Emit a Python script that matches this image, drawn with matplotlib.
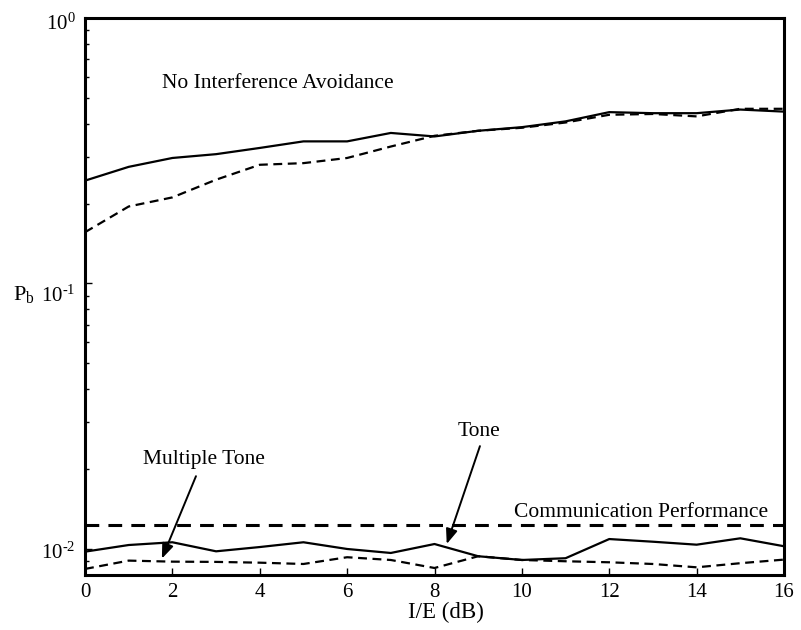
import matplotlib
matplotlib.use("Agg")
import matplotlib.pyplot as plt
import matplotlib.transforms as mtransforms
from matplotlib.ticker import FixedLocator, LogLocator, NullFormatter

plt.rcParams['font.family'] = ['Liberation Serif', 'DejaVu Serif']
plt.rcParams['mathtext.fontset'] = 'custom'
plt.rcParams['mathtext.rm'] = 'Liberation Serif'
plt.rcParams['mathtext.it'] = 'Liberation Serif:italic'

ie_db = list(range(17))
no_avoid_solid = [0.244, 0.275, 0.297, 0.307, 0.324, 0.343, 0.343, 0.369, 0.358, 0.376,
                  0.388, 0.408, 0.442, 0.438, 0.438, 0.452, 0.444]
no_avoid_dashed = [0.156, 0.195, 0.211, 0.246, 0.280, 0.284, 0.297, 0.328, 0.360, 0.376,
                   0.386, 0.404, 0.432, 0.435, 0.426, 0.455, 0.455]
tone = [0.00977, 0.01035, 0.0106, 0.0098, 0.01017, 0.0106, 0.0100, 0.00966, 0.01044, 0.00939,
        0.00909, 0.00923, 0.0109, 0.01065, 0.01038, 0.01097, 0.01024]
multi_tone = [0.00841, 0.00904, 0.00896, 0.00894, 0.00888, 0.00878, 0.00931, 0.00909, 0.00848,
              0.00939, 0.00909, 0.00899, 0.00891, 0.00878, 0.00853, 0.00884, 0.00912]
comm_perf = 0.0123
x_ticks = [0, 2, 4, 6, 8, 10, 12, 14, 16]
y_ticks = [1e-2, 1e-1, 1e0]
y_tick_labels = ['$10^{\u20102}$', '$10^{\u20101}$', '$10^{0}$']

fig = plt.figure(figsize=(8.01, 6.30), dpi=100)
ax = fig.add_axes([85/801, 1-575/630, (784-85)/801, (575-18)/630])

ax.plot(ie_db, no_avoid_solid, color='black', lw=1.6)
ax.plot(ie_db, no_avoid_dashed, color='black', lw=1.6, dashes=(4, 2.5))
ax.plot(ie_db, tone, color='black', lw=1.6)
ax.plot(ie_db, multi_tone, color='black', lw=1.6, dashes=(4, 2.5))
ax.axhline(comm_perf, color='black', lw=2.2, dashes=(4.5, 3))

ax.set_yscale('log')
ax.set_xlim(0, 16)
ax.set_ylim(0.00798, 1.0)

ax.xaxis.set_major_locator(FixedLocator(x_ticks))
ax.set_xticklabels([str(t) for t in x_ticks])
ax.yaxis.set_major_locator(FixedLocator(y_ticks))
ax.set_yticklabels(y_tick_labels)
ax.yaxis.set_minor_locator(LogLocator(base=10, subs=range(2, 10)))
ax.yaxis.set_minor_formatter(NullFormatter())
ax.xaxis.set_minor_locator(FixedLocator([]))

ax.tick_params(axis='x', which='major', direction='in', length=5, width=1,
               labelsize=15, pad=6, top=False)
ax.tick_params(axis='y', which='major', direction='in', length=5, width=1,
               labelsize=15, pad=7, right=False)
ax.tick_params(axis='y', which='minor', direction='in', length=3, width=1, right=False)
for s in ax.spines.values():
    s.set_linewidth(2.2)

# small downward offsets of the y tick labels, as in the reference
offsets_px = [2, 10, 4]
for lab, dy in zip(ax.get_yticklabels(), offsets_px):
    off = mtransforms.ScaledTranslation(0, -dy/100, fig.dpi_scale_trans)
    lab.set_transform(lab.get_transform() + off)

ax.set_xlabel('I/E (dB)', fontsize=16.5)
ax.xaxis.set_label_coords(0.516, -0.048)

fig.text(13/801, 1-300/630, r'P$_\mathrm{b}$', fontsize=16, ha='left', va='baseline')

ax.text(4.42, 0.567, 'No Interference Avoidance', fontsize=15.5, ha='center', va='center')
ax.text(15.63, 0.0132, 'Communication Performance', fontsize=15.5, ha='right', va='baseline')

ax.text(2.72, 0.0209, 'Multiple Tone', fontsize=15.5, ha='center', va='baseline')
ax.annotate('', xy=(1.76, 0.0092), xytext=(2.54, 0.0188),
            arrowprops=dict(arrowstyle='-|>,head_length=0.9,head_width=0.35', color='black',
                            lw=1.4, shrinkA=0, shrinkB=0))
ax.text(9.02, 0.0266, 'Tone', fontsize=15.5, ha='center', va='baseline')
ax.annotate('', xy=(8.28, 0.01044), xytext=(9.04, 0.0244),
            arrowprops=dict(arrowstyle='-|>,head_length=0.9,head_width=0.35', color='black',
                            lw=1.4, shrinkA=0, shrinkB=0))

fig.savefig('out.png', dpi=100)
